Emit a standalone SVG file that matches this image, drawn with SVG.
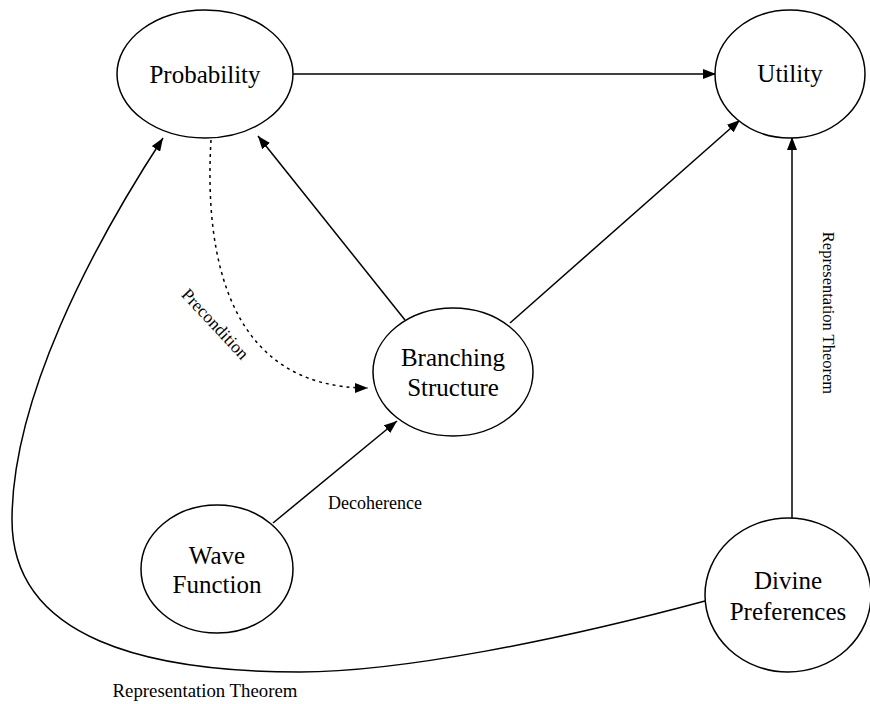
<svg xmlns="http://www.w3.org/2000/svg" width="870" height="704" viewBox="0 0 870 704">
<defs>
<marker id="arr" viewBox="0 0 13 10" refX="13" refY="5" markerWidth="13" markerHeight="10" markerUnits="userSpaceOnUse" orient="auto">
<path d="M0,0 L13,5 L0,10 z" fill="#000"/>
</marker>
<style>
.node ellipse{fill:#fff;stroke:#000;stroke-width:1.5}
.node text{font-family:"Liberation Serif","DejaVu Serif",serif;font-size:25px;text-anchor:middle;fill:#000}
.edge{fill:none;stroke:#000;stroke-width:1.5}
.lbl{font-family:"Liberation Serif","DejaVu Serif",serif;font-size:18px;fill:#000;text-anchor:middle}
</style>
</defs>
<rect width="870" height="704" fill="#fff"/>
<g id="connectors">
<path class="edge" d="M293,74 L716,74" marker-end="url(#arr)"/>
<path class="edge" d="M405,320 L258,136" marker-end="url(#arr)"/>
<path class="edge" d="M510,323 L740,120" marker-end="url(#arr)"/>
<path class="edge" d="M273,523 L397,421" marker-end="url(#arr)"/>
<path class="edge" d="M792,519 L792,137" marker-end="url(#arr)"/>
<path class="edge" d="M211,140 C 204,260 230,388 368,388" stroke-dasharray="3,4" marker-end="url(#arr)"/>
<path class="edge" d="M705,601 C 560,640 400,672 300,672 C 150,672 12,640 12,520 C 12,400 90,250 163,138" marker-end="url(#arr)"/>
<text class="lbl" transform="translate(211,328) rotate(47)" style="font-size:17.5px">Precondition</text>
<text class="lbl" x="375" y="509">Decoherence</text>
<text class="lbl" transform="translate(823,313) rotate(90)" style="font-size:16.5px">Representation Theorem</text>
<text class="lbl" x="205" y="697" style="font-size:18.8px">Representation Theorem</text>
</g>
<g id="probability" class="node"><ellipse cx="205" cy="74" rx="88" ry="64"/><text x="205" y="83">Probability</text></g>
<g id="utility" class="node"><ellipse cx="790" cy="74" rx="75" ry="64"/><text x="790" y="82">Utility</text></g>
<g id="branching" class="node"><ellipse cx="453" cy="372" rx="80" ry="64"/><text x="453" y="366">Branching</text><text x="453" y="396">Structure</text></g>
<g id="wave" class="node"><ellipse cx="217" cy="569" rx="76" ry="64"/><text x="217" y="564">Wave</text><text x="217" y="593">Function</text></g>
<g id="divine" class="node"><ellipse cx="788" cy="595" rx="83" ry="77"/><text x="788" y="589">Divine</text><text x="788" y="620">Preferences</text></g>
</svg>
